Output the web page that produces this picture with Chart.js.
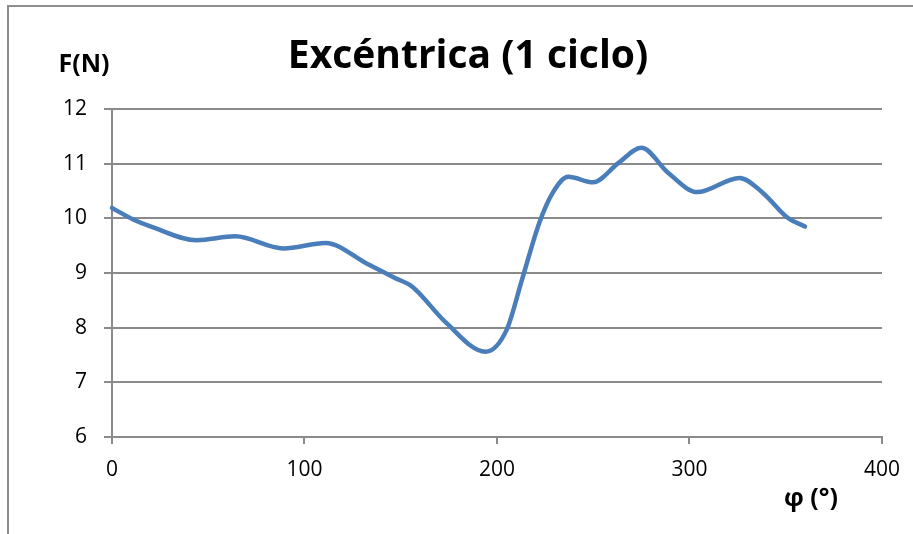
<!DOCTYPE html>
<html>
<head>
<meta charset="utf-8">
<script src="https://cdn.jsdelivr.net/npm/chart.js@4/dist/chart.umd.min.js"></script>
<style>
  html, body { margin: 0; padding: 0; background: #fff; }
  #wrap { position: relative; width: 913px; height: 534px; overflow: hidden; }
  #frame { position: absolute; left: 7px; top: 5px; width: 1000px; height: 1000px;
           border-left: 2px solid #8e8e8e; border-top: 2px solid #8e8e8e; }
  canvas { position: absolute; left: 0; top: 0; }
</style>
</head>
<body>
<div id="wrap">
  <div id="frame"></div>
  <canvas id="c" width="913" height="534"></canvas>
</div>
<script>
// Angle of the cam (degrees) and measured force (N)
const angles = [0, 11, 21, 44, 64, 89, 111, 132, 147, 156, 173, 194, 205, 213, 222, 229, 237, 250, 263, 275, 289, 304, 326, 338, 351, 360];
const forces = [10.19, 9.98, 9.84, 9.60, 9.67, 9.45, 9.55, 9.18, 8.91, 8.75, 8.11, 7.56, 7.96, 8.88, 9.92, 10.47, 10.76, 10.66, 11.01, 11.29, 10.83, 10.48, 10.74, 10.47, 10.01, 9.85];

const xTicks = [0, 100, 200, 300, 400];
const yTicks = [6, 7, 8, 9, 10, 11, 12];

const titleText = 'Excéntrica (1 ciclo)';
const yLabel = 'F(N)';
const xLabel = 'φ (°)';

const FONT = '"Open Sans", Lato, "DejaVu Sans", sans-serif';
const GRID = '#8a8a8a';

const points = angles.map((a, i) => ({ x: a, y: forces[i] }));

const labelsPlugin = {
  id: 'labels',
  afterDraw(chart) {
    const ctx = chart.ctx;
    ctx.save();
    ctx.fillStyle = '#000';
    ctx.textAlign = 'center';
    ctx.textBaseline = 'alphabetic';
    ctx.font = 'bold 39px ' + FONT;
    ctx.fillText(titleText, 468, 68);
    ctx.font = 'bold 25px ' + FONT;
    ctx.fillText(yLabel, 84, 72);
    ctx.fillText(xLabel, 811, 506);
    ctx.restore();
  }
};

new Chart(document.getElementById('c'), {
  type: 'scatter',
  data: {
    datasets: [{
      data: points,
      showLine: true,
      borderColor: '#4a7ebb',
      borderWidth: 4.5,
      pointRadius: 0,
      pointHoverRadius: 0,
      cubicInterpolationMode: 'monotone',
      borderCapStyle: 'round',
      borderJoinStyle: 'round',
      clip: false
    }]
  },
  options: {
    responsive: false,
    animation: false,
    events: [],
    layout: { padding: { left: 0, top: 109, right: 29, bottom: 0 } },
    plugins: { legend: { display: false }, tooltip: { enabled: false }, title: { display: false } },
    scales: {
      x: {
        type: 'linear',
        min: xTicks[0], max: xTicks[xTicks.length - 1],
        afterBuildTicks(scale) { scale.ticks = xTicks.map(v => ({ value: v })); },
        afterFit(scale) { scale.height = 97; },
        grid: { drawOnChartArea: false, drawTicks: true, tickLength: 7, color: GRID, lineWidth: 2 },
        border: { display: true, color: GRID, width: 2 },
        ticks: { font: { family: FONT, size: 21 }, color: '#000', padding: 13, maxRotation: 0 }
      },
      y: {
        type: 'linear',
        min: yTicks[0], max: yTicks[yTicks.length - 1],
        afterBuildTicks(scale) { scale.ticks = yTicks.map(v => ({ value: v })); },
        afterFit(scale) { scale.width = 112; },
        grid: { drawOnChartArea: true, drawTicks: true, tickLength: 8, color: GRID, lineWidth: 2 },
        border: { display: true, color: GRID, width: 2 },
        ticks: { font: { family: FONT, size: 21 }, color: '#000', padding: 17 }
      }
    }
  },
  plugins: [labelsPlugin]
});
</script>
</body>
</html>
